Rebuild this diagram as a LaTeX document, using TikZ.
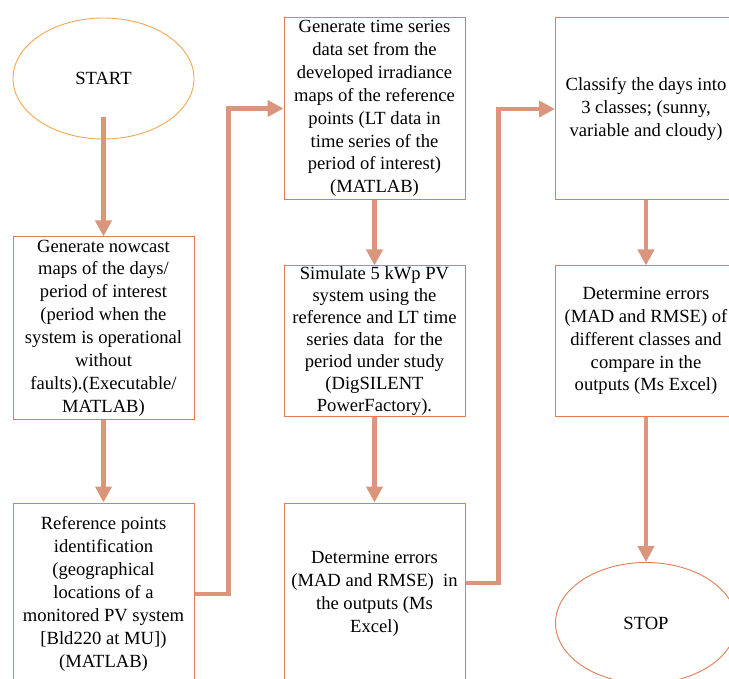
\documentclass[tikz,border=0pt]{standalone}
\usepackage{fontspec}
\setmainfont{Liberation Serif}
\usetikzlibrary{shapes.geometric,arrows.meta}
\definecolor{boxline}{RGB}{226,124,84}
\definecolor{startline}{RGB}{245,166,80}
\definecolor{flow}{RGB}{217,150,124}
\begin{document}
\begin{tikzpicture}[x=1pt,y=-1pt,
  stepbox/.style={draw=boxline, line width=1pt, minimum width=181pt, minimum height=182pt,
    inner xsep=2pt, inner ysep=0pt, align=center, font=\fontsize{18.6}{22.9}\selectfont},
  term/.style={ellipse, line width=0.9pt, minimum width=181pt, minimum height=121pt,
    inner sep=0pt, font=\fontsize{18.6}{22.9}\selectfont},
  link/.style={draw=flow, line width=4.5pt, -{Triangle[width=16pt,length=16pt]}}]
\useasboundingbox (0,0) rectangle (729,679);
\node[term, draw=startline] (1) at (103.5,78.5) {START};
\node[stepbox] (2) at (103.5,328) {Generate nowcast\\maps of the days/\\period of interest\\(period when the\\system is operational\\without\\faults).(Executable/\\MATLAB)};
\node[stepbox] (3) at (103.5,594) {Reference points\\identification\\(geographical\\locations of a\\monitored PV system\\{[Bld220 at MU])}\\(MATLAB)};
\node[stepbox] (4) at (374.5,108.5) {Generate time series\\data set from the\\developed irradiance\\maps of the reference\\points (LT data in\\time series of the\\period of interest)\\(MATLAB)};
\node[stepbox, minimum height=150pt, font=\fontsize{18.6}{22}\selectfont] (5) at (374.5,341) {Simulate 5 kWp PV\\system using the\\reference and LT time\\series data\ \ for the\\period under study\\(DigSILENT\\PowerFactory).};
\node[stepbox] (6) at (374.5,594) {Determine errors\\(MAD and RMSE)\ \ in\\the outputs (Ms\\Excel)};
\node[stepbox] (7) at (646,109) {Classify the days into\\3 classes; (sunny,\\variable and cloudy)};
\node[stepbox, minimum height=150pt] (8) at (646,341) {Determine errors\\(MAD and RMSE) of\\different classes and\\compare in the\\outputs (Ms Excel)};
\node[term, draw=boxline] (9) at (646,623) {STOP};
\path[link] ([yshift=22pt]1.south) -- (2.north);
\path[link] (2.south) -- (3.north);
\path[link] (3.east) -- ++(34,0) |- (4.west);
\path[link] (4.south) -- (5.north);
\path[link] (5.south) -- (6.north);
\path[link] ([yshift=11pt]6.east) -- ++(33,0) |- (7.west);
\path[link] (7.south) -- (8.north);
\path[link] (8.south) -- (9.north);
\end{tikzpicture}
\end{document}
